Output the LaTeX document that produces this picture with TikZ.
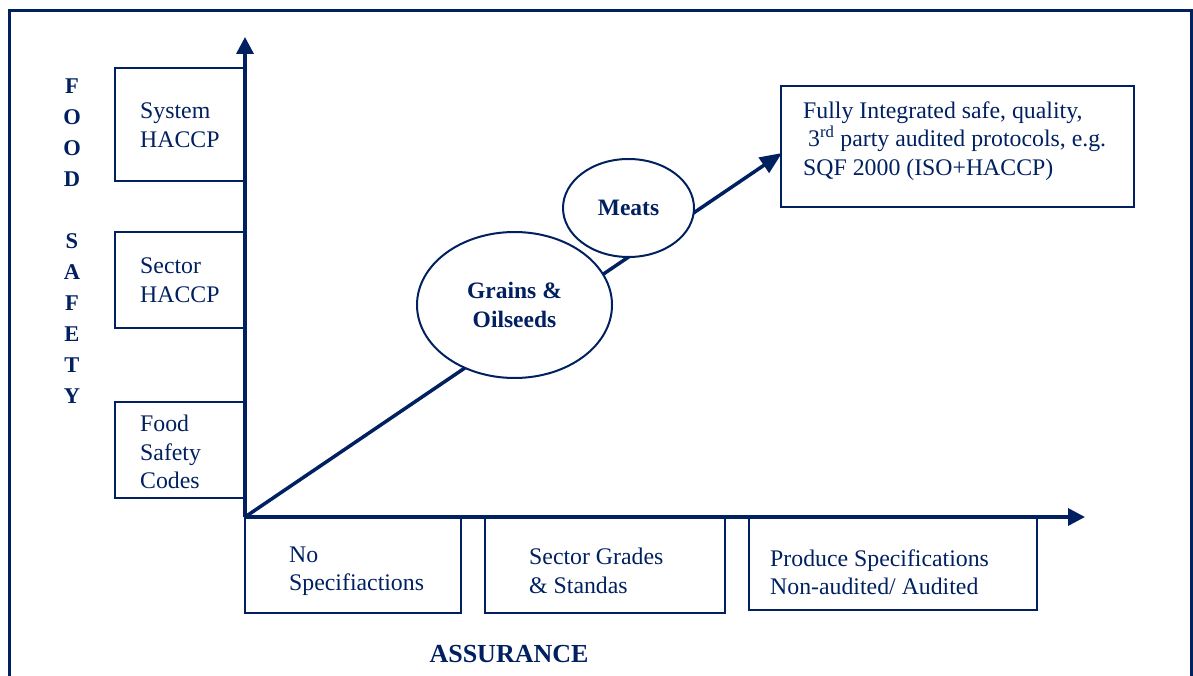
\documentclass[tikz,border=0pt]{standalone}
\usepackage{fontspec}
\setmainfont{Liberation Serif}
\usetikzlibrary{arrows.meta,shapes.geometric}
\definecolor{navy}{RGB}{0,32,96}
\begin{document}
\begin{tikzpicture}[x=1pt,y=-1pt,
  frame/.style={draw=navy,line width=3pt},
  box/.style={draw=navy,line width=2pt,rectangle,inner sep=0pt},
  boxtext/.style={text=navy,anchor=west,align=left,inner sep=0pt,font=\fontsize{23.8}{28.5}\selectfont},
  bubble/.style={draw=navy,line width=2pt,ellipse,fill=white,inner sep=0pt,text=navy,align=center,font=\fontsize{23.5}{28.5}\selectfont\bfseries},
  axis/.style={draw=navy,line width=3.5pt,-{Triangle[length=17pt,width=17pt]}},
  trend/.style={draw=navy,line width=3.5pt,-{Triangle[length=22pt,width=18pt]}},
  title/.style={text=navy,inner sep=0pt,align=center,font=\bfseries}
  ]
\useasboundingbox (0,0) rectangle (1193,676);
% outer frame (open at bottom)
\draw[frame] (9,690) -- (9,10.5) -- (1191.5,10.5) -- (1191.5,690);

% left boxes
\node[box,minimum width=130,minimum height=113] (sys) at (180,124.5) {};
\node[boxtext] (systxt) at (140,125) {System\\HACCP};
\node[box,minimum width=130,minimum height=96] (sec) at (180,280) {};
\node[boxtext] (sectxt) at (140,280) {Sector\\HACCP};
\node[box,minimum width=130,minimum height=96] (fsc) at (180,450) {};
\node[boxtext] (fsctxt) at (140,452) {Food\\Safety\\Codes};

% bottom boxes
\node[box,minimum width=216,minimum height=96] (nospec) at (353,565) {};
\node[boxtext] (nospectxt) at (289,571) {No\\Specifiactions};
\node[box,minimum width=240,minimum height=96] (grades) at (605,565) {};
\node[boxtext] (gradestxt) at (529,571) {Sector Grades\\\& Standas};
\node[box,minimum width=288,minimum height=93] (produce) at (893,563.5) {};
\node[boxtext] (producetxt) at (770,572) {Produce Specifications\\Non-audited/ Audited};

% top right box
\node[box,minimum width=353,minimum height=121] (fully) at (957.5,146.5) {};
\node[boxtext] (fullytxt) at (803,141) {Fully Integrated safe, quality,\\\hspace{5pt}3\textsuperscript{rd} party audited protocols, e.g.\\SQF 2000 (ISO+HACCP)};

% axes
\coordinate (O) at (245,517);
\coordinate (ytip) at (245,37);
\coordinate (xtip) at (1085,517);
\coordinate (trendtip) at (782,153);
\draw[axis] (O) -- (ytip);
\draw[axis] (O) -- (xtip);
\draw[trend] (O) -- (trendtip);

% bubbles
\node[bubble,minimum width=195,minimum height=146] (grains) at (514.5,305) {Grains \&\\Oilseeds};
\node[bubble,minimum width=131,minimum height=98] (meats) at (628.5,208) {Meats};

% axis titles
\node[title,font=\fontsize{22.5}{31}\selectfont\bfseries] (food) at (72,241) {F\\O\\O\\D\\[31pt]S\\A\\F\\E\\T\\Y};
\node[title,font=\fontsize{26}{30}\selectfont\bfseries] (assur) at (509,654) {ASSURANCE};
\end{tikzpicture}
\end{document}
